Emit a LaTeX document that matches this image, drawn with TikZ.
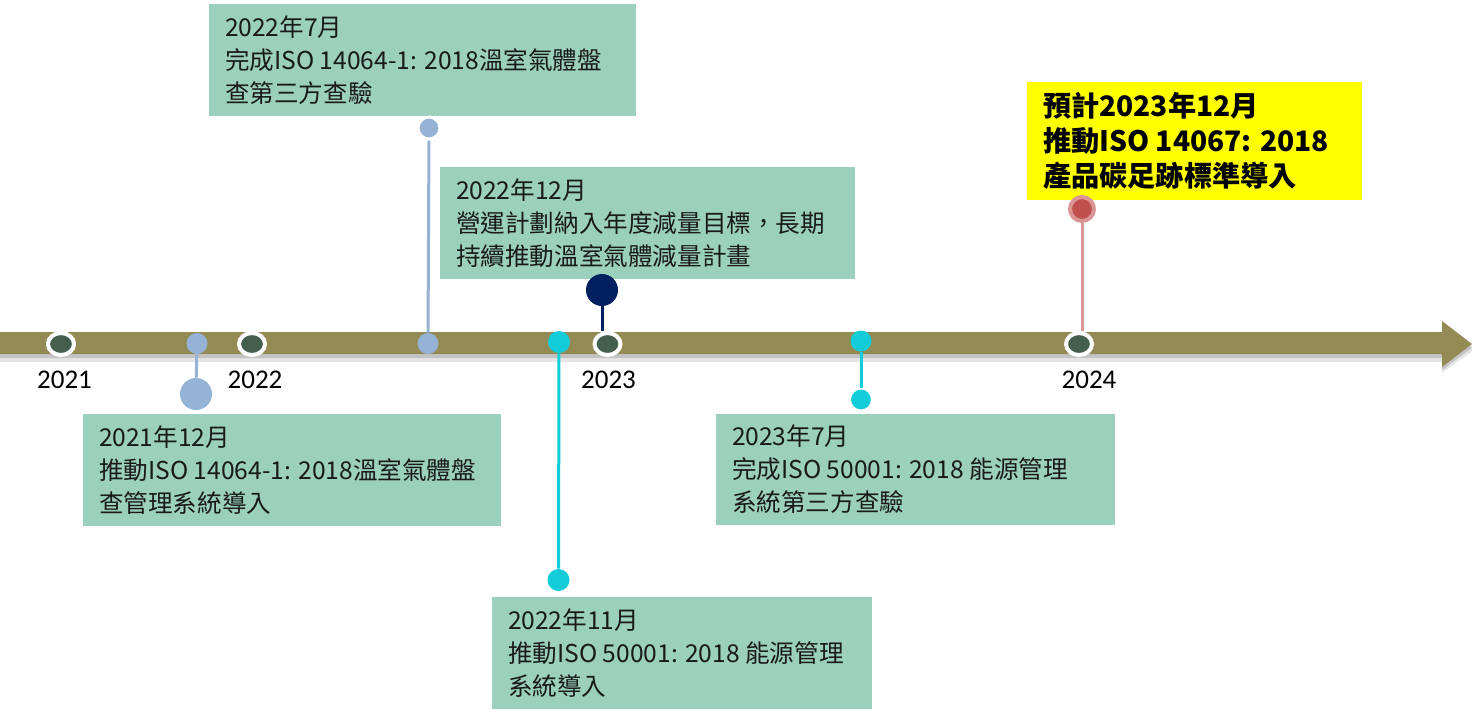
\documentclass[tikz,border=0pt]{standalone}
\usepackage{fontspec}
\setmainfont{Noto Sans CJK TC}
\newfontfamily\yearfont{Carlito}
\usetikzlibrary{shapes.geometric}
\definecolor{boxgreen}{HTML}{9BD0BC}
\definecolor{lblue}{HTML}{95B3D7}
\definecolor{cyanx}{HTML}{12CDD9}
\definecolor{navyx}{HTML}{002060}
\definecolor{dgreen}{HTML}{455F4F}
\definecolor{olive}{HTML}{948A54}
\definecolor{pinkx}{HTML}{DA9694}
\definecolor{redx}{HTML}{C0504D}
\definecolor{yel}{HTML}{FFFF00}
\definecolor{txt}{HTML}{1A1A1A}
\begin{document}
\begin{tikzpicture}[x={(0.5pt,0)}, y={(0,-0.5pt)},
  boxbg/.style={rectangle, fill=boxgreen, inner sep=0pt},
  ybg/.style={rectangle, fill=yel, inner sep=0pt},
  boxtext/.style={anchor=west, inner sep=0pt, align=left, text=txt, font=\fontsize{12.3pt}{16.5pt}\selectfont},
  ytext/.style={anchor=west, inner sep=0pt, align=left, text=black, font=\bfseries\fontsize{14.1pt}{17.5pt}\selectfont},
  yeardot/.style={ellipse, fill=dgreen, draw=white, line width=2pt, minimum width=13pt, minimum height=11pt, inner sep=0pt},
  dot/.style={circle, inner sep=0pt, minimum size=#1},
  yr/.style={font=\yearfont\fontsize{13.5pt}{16pt}\selectfont, inner sep=0pt, text=black},
  conn/.style={line width=1.5pt}
]
\useasboundingbox (0,0) rectangle (1472,709);

% timeline shadow
\fill[black, opacity=0.10] (0,338) -- (1442,338) -- (1442,327) -- (1474,350) -- (1442,373) -- (1442,362) -- (0,362) -- cycle;
\fill[black, opacity=0.15] (0,335) -- (1442,335) -- (1442,324) -- (1473,347) -- (1442,370) -- (1442,358) -- (0,358) -- cycle;
% timeline bar
\fill[olive] (0,332) -- (1442,332) -- (1442,321) -- (1472,344) -- (1442,367) -- (1442,354) -- (0,354) -- cycle;

% boxes
\node[boxbg, minimum width=209pt, minimum height=56pt] (b1) at (292,470) {};
\node[boxtext] (t1) at ([xshift=8pt]b1.west) {2021年12月\\推動ISO 14064-1: 2018溫室氣體盤\\查管理系統導入};

\node[boxbg, minimum width=213.5pt, minimum height=56pt] (b2) at (422.5,60) {};
\node[boxtext] (t2) at ([xshift=8pt]b2.west) {2022年7月\\完成ISO 14064-1: 2018溫室氣體盤\\查第三方查驗};

\node[boxbg, minimum width=207.5pt, minimum height=56pt] (b3) at (647.5,223) {};
\node[boxtext] (t3) at ([xshift=8pt]b3.west) {2022年12月\\營運計劃納入年度減量目標，長期\\持續推動溫室氣體減量計畫};

\node[boxbg, minimum width=190pt, minimum height=56pt] (b4) at (682,653) {};
\node[boxtext] (t4) at ([xshift=8pt]b4.west) {2022年11月\\推動ISO 50001: 2018 能源管理\\系統導入};

\node[boxbg, minimum width=199.5pt, minimum height=55.5pt] (b5) at (915.5,469.5) {};
\node[boxtext] (t5) at ([xshift=8pt]b5.west) {2023年7月\\完成ISO 50001: 2018 能源管理\\系統第三方查驗};

\node[ybg, minimum width=167.5pt, minimum height=59pt] (b6) at (1194.5,141) {};
\node[ytext] (t6) at ([xshift=8pt]b6.west) {預計2023年12月\\推動ISO 14067: 2018\\產品碳足跡標準導入};

% year dots
\node[yeardot] (y21) at (61,344) {};
\node[yeardot] (y22) at (252,344) {};
\node[yeardot] (y23) at (607.5,344) {};
\node[yeardot] (y24) at (1079,344) {};

% year labels
\node[yr] (l21) at (64.5,380) {2021};
\node[yr] (l22) at (255,380) {2022};
\node[yr] (l23) at (608.5,380) {2023};
\node[yr] (l24) at (1089,380) {2024};

% event 1: 2021/12
\node[dot=10.5pt, fill=lblue] (e1a) at (197,343.5) {};
\node[dot=16pt, fill=lblue] (e1b) at (196,394) {};
\draw[conn, lblue] (e1a) -- (e1b);

% event 2: 2022/7
\node[dot=10.5pt, fill=lblue] (e2a) at (428,343.5) {};
\node[dot=11pt, fill=lblue, draw=white, line width=1.5pt] (e2b) at (429,128) {};
\draw[conn, lblue] (e2a) -- (e2b);

% event 3: 2022/11
\node[dot=11pt, fill=cyanx] (e3a) at (559,342) {};
\node[dot=11pt, fill=cyanx] (e3b) at (558.5,580) {};
\draw[conn, cyanx] (e3a) -- (e3b);

% event 4: 2022/12
\node[dot=16pt, fill=navyx] (e4) at (602,290) {};
\draw[conn, navyx] (e4) -- (e4 |- y23.north);

% event 5: 2023/7
\node[dot=10.5pt, fill=cyanx] (e5a) at (861,341) {};
\node[dot=11pt, fill=cyanx, draw=white, line width=1pt] (e5b) at (861,399.5) {};
\draw[conn, cyanx] (e5a) -- (e5b);

% event 6: 2024 plan
\node[dot=12pt, fill=redx, draw=pinkx, line width=2pt] (e6) at (1082,209) {};
\draw[conn, pinkx] (e6) -- (e6 |- y24.north);

\end{tikzpicture}
\end{document}
